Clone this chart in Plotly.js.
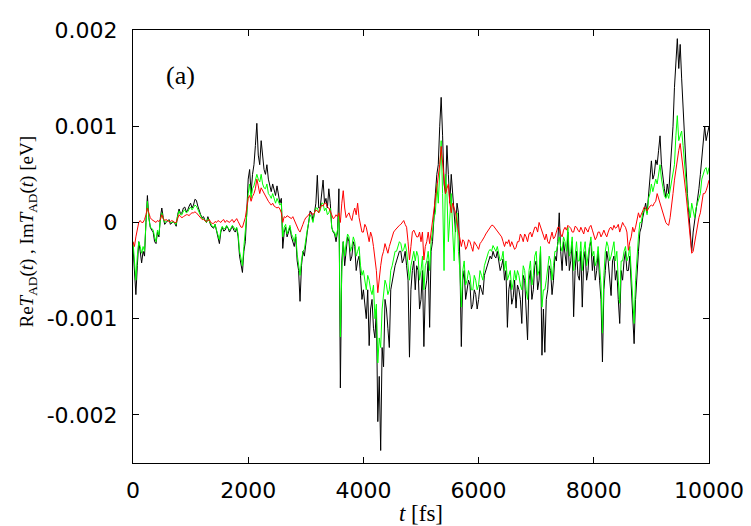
<!DOCTYPE html>
<html>
<head>
<meta charset="utf-8">
<script src="https://cdn.plot.ly/plotly-3.0.1.min.js"></script>
<style>html,body{margin:0;padding:0;background:#fff;}#chart{width:751px;height:526px;}</style>
</head>
<body>
<div id="chart"></div>
<script>
// time axis: samples every 25 fs starting at 0 fs
const T_START = 0;
const T_STEP = 25;

// Black series (eV), one row per 500 fs
const seriesBlack = [
 -0.25e-3,-0.55e-3,-0.75e-3,-0.45e-3,-0.2e-3,-0.3e-3,-0.42e-3,-0.3e-3,-0.35e-3,0,0.28e-3,0.05e-3,-0.05e-3,-0.08e-3,-0.1e-3,-0.2e-3,-0.22e-3,-0.1e-3,-0.15e-3,0.05e-3,
 0.15e-3,0.05e-3,-0.02e-3,0,0.02e-3,0.03e-3,-0.02e-3,0,0.01e-3,-0.01e-3,-0.04e-3,0.08e-3,0.14e-3,0.09e-3,0.1e-3,0.15e-3,0.16e-3,0.11e-3,0.13e-3,0.17e-3,
 0.2e-3,0.15e-3,0.18e-3,0.24e-3,0.23e-3,0.17e-3,0.12e-3,0.08e-3,0.05e-3,0.06e-3,0.02e-3,0,0.06e-3,0.01e-3,-0.03e-3,-0.05e-3,-0.06e-3,-0.02e-3,-0.1e-3,-0.15e-3,
 -0.22e-3,-0.1e-3,-0.05e-3,-0.09e-3,-0.08e-3,-0.04e-3,-0.06e-3,-0.1e-3,-0.07e-3,-0.04e-3,-0.08e-3,-0.1e-3,-0.06e-3,-0.15e-3,-0.35e-3,-0.45e-3,-0.52e-3,-0.3e-3,-0.2e-3,0.1e-3,
 0.45e-3,0.55e-3,0.3e-3,0.5e-3,0.6e-3,0.8e-3,1.03e-3,0.7e-3,0.6e-3,0.85e-3,0.72e-3,0.55e-3,0.5e-3,0.6e-3,0.45e-3,0.38e-3,0.32e-3,0.4e-3,0.35e-3,0.28e-3,
 0.38e-3,0.3e-3,0.2e-3,0.25e-3,-0.27e-3,-0.1e-3,-0.05e-3,-0.15e-3,-0.1e-3,-0.05e-3,-0.15e-3,-0.2e-3,-0.25e-3,-0.15e-3,-0.4e-3,-0.5e-3,-0.82e-3,-0.45e-3,-0.3e-3,-0.35e-3,
 -0.2e-3,-0.1e-3,0,0.12e-3,0.1e-3,0.02e-3,0.1e-3,0.2e-3,0.49e-3,0.15e-3,0.15e-3,0.3e-3,0.44e-3,0.2e-3,0.25e-3,0.15e-3,0.35e-3,0.2e-3,-0.05e-3,-0.1e-3,
 -0.12e-3,-0.2e-3,-0.1e-3,0.35e-3,-1.72e-3,-0.4e-3,-0.2e-3,-0.45e-3,-0.3e-3,-0.15e-3,-0.2e-3,-0.4e-3,-0.35e-3,-0.2e-3,-0.25e-3,-0.5e-3,-0.4e-3,-0.35e-3,-0.55e-3,-0.8e-3,
 -0.7e-3,-0.9e-3,-1.0e-3,-0.7e-3,-1.28e-3,-0.9e-3,-0.8e-3,-1.1e-3,-1.2e-3,-0.9e-3,-2.07e-3,-1.6e-3,-2.37e-3,-1.3e-3,-1.5e-3,-0.8e-3,-0.9e-3,-1.1e-3,-1.3e-3,-0.7e-3,
 -0.6e-3,-0.5e-3,-0.45e-3,-0.4e-3,-0.35e-3,-0.3e-3,-0.3e-3,-0.42e-3,-0.38e-3,-0.3e-3,-0.45e-3,-0.6e-3,-1.4e-3,-0.7e-3,-0.5e-3,-0.4e-3,-0.7e-3,-0.45e-3,-0.5e-3,-0.9e-3,
 -0.8e-3,-0.5e-3,-1.29e-3,-0.7e-3,-0.6e-3,-0.4e-3,-1.09e-3,-0.3e-3,-0.2e-3,0.1e-3,0.3e-3,0.5e-3,0.6e-3,1.0e-3,1.3e-3,0.9e-3,0.4e-3,0.3e-3,0.8e-3,0.5e-3,
 0.2e-3,0.5e-3,0.3e-3,0,-0.1e-3,0.2e-3,0.1e-3,-0.4e-3,-1.29e-3,-0.6e-3,-0.5e-3,-0.8e-3,-0.7e-3,-0.6e-3,-0.65e-3,-0.9e-3,-0.85e-3,-0.7e-3,-0.75e-3,-0.9e-3,
 -0.8e-3,-0.65e-3,-0.7e-3,-0.75e-3,-0.55e-3,-0.5e-3,-0.45e-3,-0.4e-3,-0.35e-3,-0.38e-3,-0.3e-3,-0.35e-3,-0.37e-3,-0.3e-3,-0.4e-3,-0.5e-3,-0.45e-3,-0.38e-3,-0.6e-3,-0.5e-3,
 -1.09e-3,-0.7e-3,-0.6e-3,-0.85e-3,-0.78e-3,-0.6e-3,-0.89e-3,-0.65e-3,-0.7e-3,-0.8e-3,-1.05e-3,-0.55e-3,-0.6e-3,-0.9e-3,-1.22e-3,-0.6e-3,-0.5e-3,-0.8e-3,-0.7e-3,-0.45e-3,
 -0.4e-3,-0.7e-3,-0.6e-3,-0.3e-3,-1.38e-3,-0.9e-3,-1.35e-3,-0.8e-3,-0.7e-3,-0.45e-3,-0.5e-3,-0.75e-3,-0.6e-3,-0.35e-3,-0.4e-3,-0.2e-3,0.1e-3,-0.3e-3,-0.5e-3,-0.2e-3,
 -0.3e-3,-0.45e-3,-0.1e-3,-0.5e-3,-0.4e-3,-0.2e-3,-0.98e-3,-0.5e-3,-0.3e-3,-0.55e-3,-0.6e-3,-0.3e-3,-0.88e-3,-0.4e-3,-0.3e-3,-0.6e-3,-0.5e-3,-0.25e-3,-0.2e-3,-0.5e-3,
 -0.35e-3,-0.6e-3,-0.5e-3,-0.3e-3,-0.6e-3,-0.8e-3,-1.45e-3,-0.7e-3,-0.5e-3,-0.3e-3,-0.4e-3,-0.55e-3,-0.76e-3,-0.4e-3,-0.35e-3,-0.6e-3,-0.5e-3,-0.8e-3,-1.05e-3,-0.5e-3,
 -0.6e-3,-0.4e-3,-0.3e-3,-0.5e-3,-0.5e-3,-0.35e-3,-0.7e-3,-0.9e-3,-1.26e-3,-0.8e-3,-0.5e-3,-0.3e-3,-0.1e-3,-0.05e-3,0.05e-3,0.15e-3,0.2e-3,0.1e-3,0.3e-3,0.4e-3,
 0.64e-3,0.45e-3,0.5e-3,0.65e-3,0.6e-3,0.75e-3,0.9e-3,0.6e-3,0.45e-3,0.35e-3,0.26e-3,0.4e-3,0.3e-3,0.5e-3,0.7e-3,1.0e-3,1.4e-3,1.7e-3,1.91e-3,1.6e-3,
 1.85e-3,1.5e-3,1.2e-3,0.9e-3,0.54e-3,0.3e-3,0.1e-3,-0.1e-3,-0.3e-3,-0.1e-3,0,0.1e-3,0.2e-3,0.35e-3,0.5e-3,0.7e-3,0.9e-3,1.0e-3,0.85e-3,0.95e-3,
 1.0e-3];

// Green series (eV), one row per 500 fs
const seriesGreen = [
 -0.2e-3,-0.45e-3,-0.6e-3,-0.35e-3,-0.2e-3,-0.25e-3,-0.32e-3,-0.25e-3,-0.3e-3,0,0.22e-3,0.05e-3,-0.05e-3,-0.06e-3,-0.08e-3,-0.15e-3,-0.2e-3,-0.08e-3,-0.13e-3,0.03e-3,
 0.1e-3,0.04e-3,0,0.01e-3,0.02e-3,0.02e-3,0,0,0.01e-3,-0.01e-3,-0.02e-3,0.07e-3,0.12e-3,0.08e-3,0.08e-3,0.12e-3,0.13e-3,0.1e-3,0.11e-3,0.14e-3,
 0.16e-3,0.13e-3,0.15e-3,0.18e-3,0.17e-3,0.13e-3,0.1e-3,0.07e-3,0.04e-3,0.04e-3,0.02e-3,0,0.04e-3,0.01e-3,-0.02e-3,-0.04e-3,-0.05e-3,-0.02e-3,-0.08e-3,-0.12e-3,
 -0.18e-3,-0.08e-3,-0.04e-3,-0.07e-3,-0.06e-3,-0.03e-3,-0.05e-3,-0.08e-3,-0.06e-3,-0.03e-3,-0.05e-3,-0.08e-3,-0.05e-3,-0.12e-3,-0.3e-3,-0.4e-3,-0.45e-3,-0.25e-3,-0.1e-3,0.08e-3,
 0.3e-3,0.4e-3,0.25e-3,0.35e-3,0.38e-3,0.45e-3,0.5e-3,0.45e-3,0.42e-3,0.5e-3,0.4e-3,0.36e-3,0.35e-3,0.4e-3,0.3e-3,0.28e-3,0.25e-3,0.3e-3,0.24e-3,0.2e-3,
 0.25e-3,0.22e-3,0.18e-3,0.2e-3,-0.15e-3,-0.05e-3,-0.02e-3,-0.12e-3,-0.08e-3,-0.03e-3,-0.12e-3,-0.15e-3,-0.2e-3,-0.12e-3,-0.33e-3,-0.42e-3,-0.55e-3,-0.4e-3,-0.3e-3,-0.28e-3,
 -0.15e-3,-0.08e-3,0,0.08e-3,0.05e-3,0,0.1e-3,0.15e-3,0.15e-3,0.1e-3,0.12e-3,0.2e-3,0.2e-3,0.12e-3,0.15e-3,0.08e-3,0.1e-3,0.15e-3,-0.05e-3,-0.1e-3,
 -0.1e-3,-0.15e-3,-0.08e-3,0.1e-3,-1.19e-3,-0.5e-3,-0.2e-3,-0.35e-3,-0.22e-3,-0.12e-3,-0.15e-3,-0.3e-3,-0.25e-3,-0.15e-3,-0.2e-3,-0.35e-3,-0.3e-3,-0.25e-3,-0.45e-3,-0.55e-3,
 -0.5e-3,-0.6e-3,-0.7e-3,-0.55e-3,-0.6e-3,-0.7e-3,-0.75e-3,-0.65e-3,-1.0e-3,-0.85e-3,-1.46e-3,-1.2e-3,-1.3e-3,-0.9e-3,-0.75e-3,-0.6e-3,-0.65e-3,-0.75e-3,-0.7e-3,-0.5e-3,
 -0.45e-3,-0.35e-3,-0.3e-3,-0.3e-3,-0.25e-3,-0.2e-3,-0.22e-3,-0.3e-3,-0.28e-3,-0.22e-3,-0.3e-3,-0.45e-3,-0.6e-3,-0.45e-3,-0.35e-3,-0.3e-3,-0.4e-3,-0.3e-3,-0.35e-3,-0.6e-3,
 -0.5e-3,-0.35e-3,-0.7e-3,-0.45e-3,-0.4e-3,-0.3e-3,-0.5e-3,-0.2e-3,-0.1e-3,0.05e-3,0.1e-3,0.4e-3,0.2e-3,0.6e-3,0.85e-3,0.3e-3,-0.5e-3,0.5e-3,0.3e-3,-0.2e-3,
 0,0.3e-3,-0.1e-3,-0.4e-3,0,0.1e-3,-0.3e-3,-0.5e-3,-0.88e-3,-0.5e-3,-0.4e-3,-0.65e-3,-0.6e-3,-0.5e-3,-0.55e-3,-0.7e-3,-0.7e-3,-0.55e-3,-0.6e-3,-0.7e-3,
 -0.65e-3,-0.5e-3,-0.55e-3,-0.6e-3,-0.45e-3,-0.4e-3,-0.35e-3,-0.3e-3,-0.28e-3,-0.3e-3,-0.24e-3,-0.28e-3,-0.3e-3,-0.25e-3,-0.33e-3,-0.4e-3,-0.38e-3,-0.3e-3,-0.5e-3,-0.4e-3,
 -0.6e-3,-0.55e-3,-0.5e-3,-0.7e-3,-0.63e-3,-0.5e-3,-0.6e-3,-0.5e-3,-0.55e-3,-0.65e-3,-0.7e-3,-0.45e-3,-0.5e-3,-0.7e-3,-0.8e-3,-0.5e-3,-0.4e-3,-0.65e-3,-0.55e-3,-0.35e-3,
 -0.3e-3,-0.55e-3,-0.5e-3,-0.25e-3,-0.88e-3,-0.7e-3,-0.7e-3,-0.6e-3,-0.5e-3,-0.35e-3,-0.4e-3,-0.6e-3,-0.45e-3,-0.3e-3,-0.3e-3,-0.2e-3,-0.15e-3,-0.25e-3,-0.3e-3,-0.15e-3,
 -0.2e-3,-0.3e-3,-0.05e-3,-0.35e-3,-0.3e-3,-0.15e-3,-0.5e-3,-0.35e-3,-0.2e-3,-0.4e-3,-0.4e-3,-0.2e-3,-0.5e-3,-0.3e-3,-0.2e-3,-0.45e-3,-0.35e-3,-0.2e-3,-0.15e-3,-0.35e-3,
 -0.3e-3,-0.45e-3,-0.4e-3,-0.25e-3,-0.5e-3,-0.65e-3,-1.15e-3,-0.55e-3,-0.3e-3,-0.2e-3,-0.25e-3,-0.4e-3,-0.35e-3,-0.25e-3,-0.2e-3,-0.4e-3,-0.3e-3,-0.6e-3,-0.84e-3,-0.4e-3,
 -0.4e-3,-0.3e-3,-0.25e-3,-0.4e-3,-0.35e-3,-0.25e-3,-0.5e-3,-0.75e-3,-1.05e-3,-0.6e-3,-0.3e-3,-0.15e-3,0,0,0.1e-3,0.12e-3,0.15e-3,0.08e-3,0.25e-3,0.3e-3,
 0.4e-3,0.32e-3,0.38e-3,0.45e-3,0.4e-3,0.5e-3,0.6e-3,0.45e-3,0.35e-3,0.28e-3,0.25e-3,0.3e-3,0.25e-3,0.35e-3,0.4e-3,0.55e-3,0.6e-3,0.9e-3,1.11e-3,0.85e-3,
 0.9e-3,0.95e-3,0.8e-3,0.6e-3,0.4e-3,0.25e-3,0.15e-3,0.05e-3,0.2e-3,0.1e-3,0.05e-3,0.15e-3,0.2e-3,0.25e-3,0.3e-3,0.45e-3,0.5e-3,0.55e-3,0.57e-3,0.5e-3,
 0.57e-3];

// Red series (eV), one row per 500 fs
const seriesRed = [
 -0.2e-3,-0.25e-3,-0.15e-3,-0.05e-3,0,0.02e-3,0,0,0.03e-3,0.08e-3,0.15e-3,0.1e-3,0.05e-3,0.03e-3,0.02e-3,0.01e-3,0,0.02e-3,0.01e-3,0.03e-3,
 0.08e-3,0.04e-3,0.02e-3,0.03e-3,0.02e-3,0.01e-3,0.01e-3,0.02e-3,0.01e-3,0,0,0.05e-3,0.08e-3,0.06e-3,0.05e-3,0.06e-3,0.07e-3,0.08e-3,0.08e-3,0.07e-3,
 0.09e-3,0.1e-3,0.1e-3,0.11e-3,0.1e-3,0.08e-3,0.06e-3,0.04e-3,0.03e-3,0.03e-3,0.02e-3,0.01e-3,0.02e-3,0.03e-3,0,-0.01e-3,-0.01e-3,0.01e-3,0,0.02e-3,
 0.01e-3,0,0.02e-3,0.03e-3,0,0.02e-3,0.01e-3,0,0.02e-3,0.03e-3,0,0.02e-3,0.04e-3,0.01e-3,-0.02e-3,-0.05e-3,-0.05e-3,0,0.05e-3,0.15e-3,
 0.25e-3,0.28e-3,0.22e-3,0.27e-3,0.3e-3,0.35e-3,0.45e-3,0.38e-3,0.3e-3,0.36e-3,0.33e-3,0.3e-3,0.27e-3,0.25e-3,0.22e-3,0.2e-3,0.18e-3,0.2e-3,0.17e-3,0.16e-3,
 0.15e-3,0.16e-3,0.14e-3,0.1e-3,0,0.06e-3,0.05e-3,0.07e-3,0.06e-3,0.05e-3,0.04e-3,0.06e-3,0.02e-3,0,-0.05e-3,-0.08e-3,-0.1e-3,-0.05e-3,-0.02e-3,0.02e-3,
 0.05e-3,0.06e-3,0.08e-3,0.1e-3,0.1e-3,0.08e-3,0.1e-3,0.13e-3,0.12e-3,0.1e-3,0.15e-3,0.18e-3,0.17e-3,0.2e-3,0.2e-3,0.16e-3,0.15e-3,0.12e-3,0.08e-3,0.04e-3,
 0.05e-3,0.08e-3,0.06e-3,0.1e-3,0,0.2e-3,0.33e-3,0.15e-3,0.05e-3,0.08e-3,0.1e-3,0.05e-3,0.02e-3,0.1e-3,0.15e-3,0.08e-3,0.2e-3,0.05e-3,-0.05e-3,-0.1e-3,
 -0.1e-3,-0.02e-3,-0.05e-3,-0.15e-3,-0.2e-3,-0.1e-3,-0.15e-3,-0.25e-3,-0.4e-3,-0.5e-3,-0.73e-3,-0.55e-3,-0.45e-3,-0.35e-3,-0.3e-3,-0.22e-3,-0.28e-3,-0.32e-3,-0.25e-3,-0.2e-3,
 -0.15e-3,-0.1e-3,-0.08e-3,-0.06e-3,-0.05e-3,-0.03e-3,-0.02e-3,0,0.02e-3,-0.02e-3,-0.05e-3,-0.2e-3,-0.39e-3,-0.25e-3,-0.1e-3,-0.08e-3,-0.12e-3,-0.15e-3,-0.15e-3,-0.1e-3,
 -0.2e-3,-0.1e-3,-0.39e-3,-0.25e-3,-0.2e-3,-0.1e-3,-0.22e-3,-0.1e-3,0,0.15e-3,0.25e-3,0.35e-3,0.5e-3,0.6e-3,0.79e-3,0.6e-3,0.45e-3,0.3e-3,0.35e-3,0.4e-3,
 0.2e-3,0.1e-3,0.2e-3,0.15e-3,0.1e-3,0,-0.1e-3,-0.15e-3,-0.25e-3,-0.18e-3,-0.2e-3,-0.28e-3,-0.25e-3,-0.18e-3,-0.2e-3,-0.25e-3,-0.3e-3,-0.2e-3,-0.22e-3,-0.25e-3,
 -0.28e-3,-0.22e-3,-0.2e-3,-0.18e-3,-0.15e-3,-0.12e-3,-0.1e-3,-0.08e-3,-0.05e-3,-0.03e-3,-0.03e-3,-0.05e-3,-0.06e-3,-0.08e-3,-0.1e-3,-0.12e-3,-0.15e-3,-0.2e-3,-0.25e-3,-0.2e-3,
 -0.22e-3,-0.18e-3,-0.25e-3,-0.2e-3,-0.24e-3,-0.28e-3,-0.26e-3,-0.2e-3,-0.2e-3,-0.12e-3,-0.15e-3,-0.2e-3,-0.12e-3,-0.15e-3,-0.2e-3,-0.12e-3,-0.1e-3,-0.15e-3,-0.1e-3,-0.05e-3,
 -0.05e-3,-0.1e-3,0,-0.05e-3,-0.1e-3,-0.15e-3,-0.18e-3,-0.12e-3,-0.2e-3,-0.22e-3,-0.15e-3,-0.1e-3,-0.17e-3,-0.15e-3,-0.1e-3,-0.05e-3,-0.05e-3,-0.12e-3,-0.15e-3,-0.08e-3,
 -0.05e-3,-0.08e-3,-0.03e-3,-0.05e-3,-0.06e-3,-0.1e-3,-0.1e-3,-0.04e-3,-0.05e-3,-0.08e-3,-0.1e-3,-0.05e-3,-0.08e-3,-0.12e-3,-0.05e-3,-0.08e-3,-0.1e-3,-0.05e-3,-0.03e-3,-0.08e-3,
 -0.12e-3,-0.18e-3,-0.15e-3,-0.1e-3,-0.1e-3,-0.15e-3,-0.12e-3,-0.08e-3,-0.12e-3,-0.15e-3,-0.1e-3,-0.06e-3,-0.05e-3,-0.08e-3,-0.03e-3,-0.06e-3,-0.05e-3,-0.02e-3,-0.1e-3,-0.05e-3,
 0,-0.03e-3,-0.05e-3,-0.1e-3,-0.29e-3,-0.2e-3,-0.15e-3,-0.05e-3,-0.1e-3,-0.05e-3,0.05e-3,0.1e-3,0.05e-3,0.08e-3,0.12e-3,0.16e-3,0.15e-3,0.12e-3,0.15e-3,0.17e-3,
 0.18e-3,0.17e-3,0.2e-3,0.22e-3,0.3e-3,0.25e-3,0.2e-3,0.15e-3,0.1e-3,0.05e-3,0,-0.02e-3,-0.03e-3,0.05e-3,0.15e-3,0.3e-3,0.44e-3,0.55e-3,0.64e-3,0.75e-3,
 0.82e-3,0.7e-3,0.6e-3,0.45e-3,0.3e-3,0.15e-3,0,-0.2e-3,-0.32e-3,-0.3e-3,-0.2e-3,-0.1e-3,0,0.05e-3,0.1e-3,0.2e-3,0.3e-3,0.3e-3,0.33e-3,0.38e-3,
 0.44e-3];

const traceStyle = (color) => ({type: 'scatter', mode: 'lines', x0: T_START, dx: T_STEP,
  line: {color: color, width: 1}, hoverinfo: 'skip', showlegend: false});

const data = [
  Object.assign(traceStyle('#000000'), {y: seriesBlack}),
  Object.assign(traceStyle('#00ff00'), {y: seriesGreen}),
  Object.assign(traceStyle('#ff0000'), {y: seriesRed})
];

const axisCommon = {
  showline: true, linecolor: '#000', linewidth: 1, mirror: 'allticks',
  ticks: 'inside', ticklen: 6, tickcolor: '#000', tickwidth: 1,
  showgrid: false, zeroline: false,
  tickfont: {family: 'DejaVu Sans, Liberation Sans, sans-serif', size: 22, color: '#000'}
};

const serifFont = 'Liberation Serif, Times New Roman, serif';

const layout = {
  width: 751, height: 526,
  margin: {l: 133, r: 42, t: 30, b: 63, pad: 0},
  paper_bgcolor: '#fff', plot_bgcolor: '#fff',
  xaxis: Object.assign({}, axisCommon, {
    range: [0, 10000], tickvals: [0, 2000, 4000, 6000, 8000, 10000],
    ticktext: ['0', '2000', '4000', '6000', '8000', '10000'],
    ticklabelstandoff: 8,
    title: {text: '<i>t</i> [fs]', font: {family: serifFont, size: 23, color: '#000'}, standoff: 5}
  }),
  yaxis: Object.assign({}, axisCommon, {
    range: [-0.0025, 0.002], tickvals: [-0.002, -0.001, 0, 0.001, 0.002],
    ticktext: ['-0.002', '-0.001', '0', '0.001', '0.002'],
    ticklabelstandoff: 10
  }),
  annotations: [{
    text: '(a)', xref: 'paper', yref: 'paper', x: 0.082, y: 0.895,
    xanchor: 'center', yanchor: 'middle', showarrow: false,
    font: {family: serifFont, size: 26, color: '#000'}
  }, {
    text: 'Re<i>T</i><sub>AD</sub>(<i>t</i>) , Im<i>T</i><sub>AD</sub>(<i>t</i>) [eV]',
    xref: 'paper', yref: 'paper', x: -0.182, y: 0.535, textangle: -90,
    xanchor: 'center', yanchor: 'middle', showarrow: false,
    font: {family: serifFont, size: 19, color: '#000'}
  }]
};

Plotly.newPlot('chart', data, layout, {staticPlot: true, displayModeBar: false});
</script>
</body>
</html>
